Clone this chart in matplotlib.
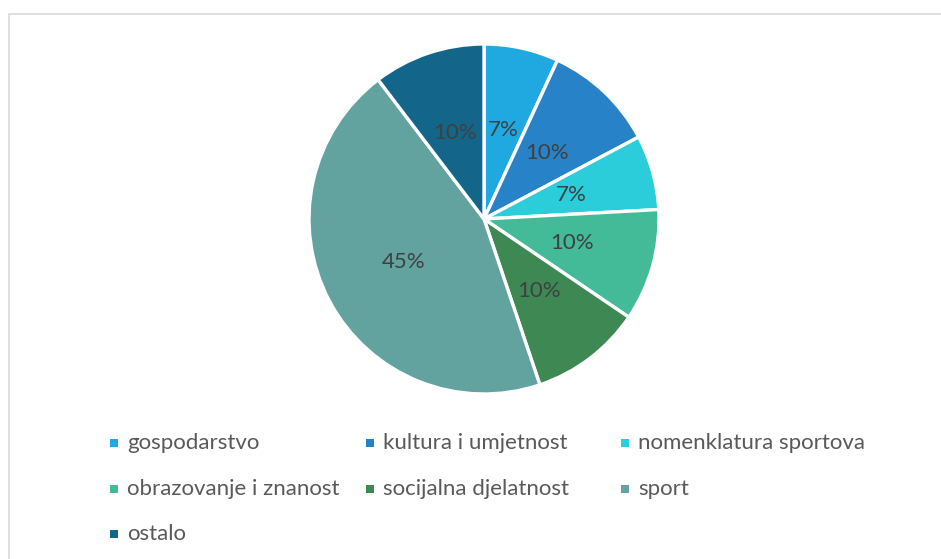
"""Pie chart: share of categories (gospodarstvo, kultura, sport ...)."""

import matplotlib

matplotlib.use("Agg")
import matplotlib.pyplot as plt
from matplotlib.patches import Rectangle

categories = [
    "gospodarstvo",
    "kultura i umjetnost",
    "nomenklatura sportova",
    "obrazovanje i znanost",
    "socijalna djelatnost",
    "sport",
    "ostalo",
]
counts = [2, 3, 2, 3, 3, 13, 3]
colors = ["#20A9E1", "#2882C8", "#2ACDD9", "#43BA98", "#3E8854", "#63A39F", "#13668A"]

W, H = 941, 559
plt.rcParams["font.family"] = ["Lato", "DejaVu Sans"]

fig = plt.figure(figsize=(W / 100, H / 100), dpi=100)

# chart frame (only top/left edges visible in the crop)
fig.patches.append(
    Rectangle((9 / W, -0.02), 1.05, 1 - 14 / H + 0.02, transform=fig.transFigure,
              fill=False, edgecolor="#D9D9D9", linewidth=1.2)
)

cx, cy, r = 484, 219, 175
ax = fig.add_axes([(cx - r) / W, (H - cy - r) / H, 2 * r / W, 2 * r / H])
wedges, texts, autotexts = ax.pie(
    counts,
    colors=colors,
    startangle=90,
    counterclock=False,
    autopct=lambda p: f"{p:.0f}%",
    pctdistance=0.52,
    wedgeprops={"edgecolor": "white", "linewidth": 2.4},
    textprops={"fontsize": 16, "color": "#404040"},
)
ax.set_xlim(-1, 1)
ax.set_ylim(-1, 1)
ax.set_aspect("equal")

# legend laid out like the spreadsheet one: 3 fixed-width columns, row-major
col_x = [114, 370, 625]
row_y = [443, 489, 534]
for i, (name, col) in enumerate(zip(categories, colors)):
    x = col_x[i % 3]
    y = row_y[i // 3]
    fig.patches.append(
        Rectangle(((x - 4) / W, (H - y - 4) / H), 8 / W, 8 / H,
                  transform=fig.transFigure, facecolor=col, edgecolor="none")
    )
    fig.text((x + 13) / W, (H - y) / H, name, fontsize=16, color="#595959",
             va="center", ha="left")

fig.savefig("out.png", dpi=100, facecolor="white")
